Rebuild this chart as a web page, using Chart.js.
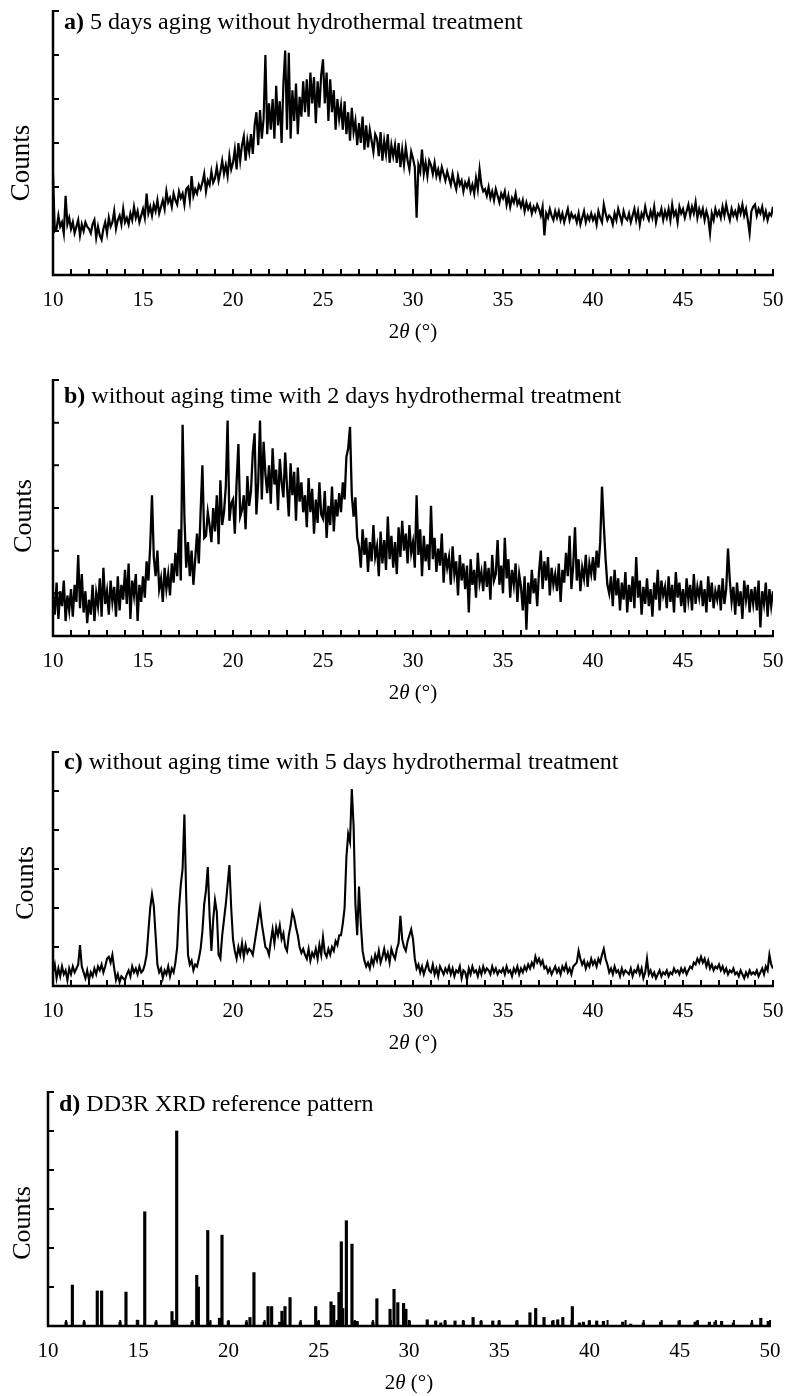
<!DOCTYPE html>
<html>
<head>
<meta charset="utf-8">
<script src="https://cdn.jsdelivr.net/npm/chart.js@4.4.1/dist/chart.umd.min.js"></script>
<style>
  html, body { margin: 0; padding: 0; background: #fff; }
  #page { position: relative; width: 785px; height: 1396px; overflow: hidden; }
  .panel { position: absolute; left: 0; width: 785px; }
  canvas { display: block; }
</style>
</head>
<body>
<div id="page">
  <div class="panel" style="top:0px"><canvas id="chartA" width="785" height="350"></canvas></div>
  <div class="panel" style="top:350px"><canvas id="chartB" width="785" height="362"></canvas></div>
  <div class="panel" style="top:712px"><canvas id="chartC" width="785" height="350"></canvas></div>
  <div class="panel" style="top:1062px"><canvas id="chartD" width="785" height="334"></canvas></div>
</div>
<script>
// 2-theta sampling of the measured patterns (degrees)
const thetaStart = 10;
const thetaStep = 0.1;
const xTickLabels = [10, 15, 20, 25, 30, 35, 40, 45, 50];
const yTickValues = [1, 2, 3, 4, 5, 6];

// a) 5 days aging without hydrothermal treatment (counts, in tick units)
const countsA = [
  2.30,1.00,1.05,1.35,1.10,1.20,0.95,1.80,1.15,1.30,
  1.05,1.20,0.95,1.10,1.25,0.90,1.15,1.00,1.20,1.10,
  1.05,0.95,1.15,1.25,0.85,1.10,0.90,0.80,1.05,1.20,
  0.95,1.30,1.10,1.20,1.45,1.05,1.25,1.35,1.15,1.50,
  1.20,1.30,1.15,1.40,1.25,1.55,1.30,1.45,1.20,1.35,
  1.50,1.30,1.85,1.40,1.55,1.35,1.60,1.45,1.70,1.40,
  1.55,1.70,1.50,1.90,1.65,1.75,1.55,1.85,1.70,1.60,
  1.90,1.75,1.85,1.60,1.95,2.00,1.70,2.25,1.80,1.95,
  1.85,2.05,1.95,2.10,2.30,1.90,2.15,2.05,2.35,2.10,
  2.20,2.45,2.15,2.35,2.60,2.30,2.50,2.25,2.70,2.40,
  2.55,2.85,2.40,3.00,2.60,2.95,3.15,2.60,3.05,2.80,
  3.20,2.75,3.40,3.70,2.95,3.75,3.10,3.55,5.00,3.20,
  3.90,3.30,4.00,3.10,4.30,3.40,3.95,3.00,4.35,5.10,
  3.30,5.05,3.10,4.20,3.50,4.35,3.20,4.05,3.60,4.40,
  3.70,4.45,3.60,4.60,3.90,4.50,3.45,4.40,3.80,4.55,
  4.90,3.90,4.60,3.50,4.45,3.70,4.20,3.30,4.00,3.55,
  3.85,3.30,3.95,3.20,3.70,3.05,3.80,3.25,3.50,2.95,
  3.45,3.00,3.60,2.85,3.40,2.90,3.30,3.05,2.80,3.20,
  3.10,2.70,3.25,2.60,3.05,2.75,3.20,2.55,2.95,2.70,
  2.95,2.55,3.00,2.45,2.85,2.50,2.90,2.60,2.40,2.80,
  2.65,2.45,1.30,2.50,2.35,2.85,2.30,2.55,2.25,2.60,
  2.50,2.30,2.55,2.25,2.40,2.20,2.45,2.30,2.15,2.35,
  2.20,2.05,2.30,2.10,1.95,2.25,2.05,2.15,1.90,2.10,
  2.00,2.15,1.90,2.05,1.85,2.20,1.95,2.40,2.05,1.90,
  1.95,1.80,2.00,1.75,1.90,1.70,1.95,1.80,1.65,1.85,
  1.75,1.90,1.60,1.80,1.55,1.75,1.65,1.85,1.60,1.70,
  1.55,1.70,1.45,1.65,1.50,1.60,1.40,1.55,1.45,1.60,
  1.50,1.35,1.55,0.90,1.40,1.30,1.50,1.35,1.25,1.45,
  1.30,1.45,1.25,1.40,1.20,1.35,1.50,1.25,1.40,1.30,
  1.35,1.20,1.40,1.15,1.30,1.45,1.20,1.35,1.25,1.40,
  1.25,1.35,1.15,1.45,1.30,1.20,1.60,1.40,1.25,1.35,
  1.30,1.15,1.40,1.25,1.50,1.35,1.20,1.45,1.30,1.25,
  1.40,1.20,1.35,1.50,1.25,1.45,1.15,1.40,1.30,1.55,
  1.35,1.25,1.45,1.30,1.55,1.20,1.40,1.35,1.50,1.25,
  1.45,1.30,1.50,1.25,1.60,1.35,1.45,1.20,1.55,1.40,
  1.50,1.30,1.45,1.60,1.35,1.55,1.40,1.65,1.30,1.50,
  1.35,1.50,1.25,1.45,1.30,0.95,1.40,1.25,1.50,1.35,
  1.45,1.30,1.55,1.35,1.60,1.40,1.25,1.50,1.35,1.45,
  1.30,1.55,1.40,1.60,1.35,1.50,1.25,0.95,1.45,1.55,
  1.60,1.35,1.50,1.40,1.55,1.30,1.45,1.25,1.40,1.35,
  1.55
];

// b) without aging time with 2 days hydrothermal treatment
const countsB = [
  1.00,0.50,1.25,0.40,1.05,0.70,1.30,0.35,0.95,0.60,
  1.10,0.45,1.20,0.80,1.90,0.65,1.45,0.55,1.05,0.30,
  0.85,0.50,1.20,0.35,1.00,0.70,1.35,0.45,1.60,0.75,
  1.05,0.50,1.30,0.80,1.15,0.45,1.40,0.60,1.20,0.85,
  1.55,0.75,1.70,0.40,1.30,0.95,1.45,0.35,1.20,0.80,
  1.40,0.90,1.75,1.30,2.10,3.30,1.85,1.40,2.00,1.10,
  1.35,0.80,1.60,1.10,1.45,0.95,1.70,1.25,1.95,1.40,
  2.50,1.30,4.95,2.80,1.60,2.20,1.40,2.00,1.20,1.80,
  2.40,1.70,2.90,4.00,2.30,2.35,2.90,2.60,2.20,3.00,
  2.45,3.30,2.15,3.65,2.60,2.90,3.50,5.05,2.70,3.10,
  3.20,2.40,3.60,4.50,2.80,2.95,3.30,2.50,3.75,3.05,
  3.40,4.30,4.75,2.85,3.60,5.05,3.20,4.55,3.80,3.35,
  4.00,3.10,4.40,3.55,3.90,2.95,4.15,3.60,3.25,4.30,
  3.50,2.80,4.05,3.30,3.85,2.70,3.95,3.15,3.60,2.90,
  3.30,2.55,3.70,2.90,3.45,2.40,3.20,2.65,3.60,2.85,
  2.75,3.40,2.30,3.05,2.60,3.50,2.45,3.20,2.80,3.35,
  2.90,3.60,3.20,4.20,4.40,4.90,3.30,2.80,3.25,2.30,
  2.10,1.60,2.50,1.90,2.30,1.50,2.20,1.75,2.60,1.85,
  2.10,1.40,2.45,1.70,2.25,1.55,2.80,1.80,2.35,1.60,
  2.20,1.45,2.55,1.85,2.70,2.00,2.40,1.70,2.60,1.95,
  2.20,1.60,3.30,1.90,2.50,1.40,2.35,1.75,2.15,1.55,
  3.05,1.80,2.30,1.50,2.05,1.65,2.40,1.25,1.95,1.60,
  1.85,1.20,2.10,1.45,1.75,0.95,1.90,1.30,1.70,1.10,
  1.65,0.55,1.80,1.20,1.55,0.90,1.95,1.25,1.50,1.05,
  1.75,1.15,1.60,0.85,1.90,1.30,1.45,2.25,1.20,1.65,
  1.00,2.30,1.35,1.80,0.90,1.55,1.20,1.70,0.80,1.45,
  1.15,0.60,1.40,0.15,1.25,0.75,1.55,1.00,1.35,0.70,
  1.50,2.00,1.10,1.75,1.30,1.85,0.95,1.60,1.20,1.45,
  1.05,1.70,0.80,1.55,1.25,1.95,1.40,2.35,1.10,1.65,
  2.55,1.30,1.80,1.05,1.60,1.35,1.90,1.15,1.70,1.45,
  1.85,1.30,2.00,1.60,2.20,3.50,2.60,1.80,1.20,1.00,
  1.40,0.70,1.55,0.95,1.35,0.60,1.25,0.85,1.50,0.55,
  1.20,0.80,1.40,0.65,1.85,0.90,1.30,0.50,1.15,0.75,
  1.35,0.70,1.10,0.45,1.25,0.85,1.55,0.60,1.30,0.95,
  1.15,0.65,1.40,0.80,1.20,0.55,1.50,0.90,1.25,0.70,
  1.10,0.55,1.35,0.85,1.20,0.60,1.45,0.75,1.15,0.90,
  1.30,0.70,1.10,0.55,1.40,0.80,1.25,0.65,1.05,0.85,
  1.20,0.60,1.35,0.75,1.10,2.05,1.30,0.80,1.15,0.50,
  1.25,0.70,1.05,0.40,1.30,0.85,1.20,0.55,1.10,0.75,
  1.15,0.60,1.30,0.20,1.05,0.75,1.25,0.45,1.10,0.70,
  1.05
];

// c) without aging time with 5 days hydrothermal treatment
const countsC = [
  0.35,0.55,0.20,0.45,0.25,0.50,0.30,0.40,0.15,0.45,
  0.30,0.50,0.35,0.45,0.55,1.05,0.50,0.35,0.20,0.40,
  0.15,0.35,0.25,0.45,0.30,0.50,0.40,0.55,0.35,0.50,
  0.70,0.75,0.60,0.80,0.45,0.15,0.30,0.10,0.25,0.20,
  0.15,0.30,0.40,0.25,0.50,0.35,0.45,0.30,0.50,0.35,
  0.40,0.55,0.80,1.40,2.00,2.35,2.05,1.30,0.55,0.35,
  0.45,0.20,0.40,0.30,0.50,0.25,0.45,0.35,0.60,1.00,
  2.00,2.60,3.00,4.40,2.30,0.80,0.55,0.65,0.40,0.55,
  0.50,0.70,0.95,1.40,2.10,2.45,3.05,1.80,0.90,1.70,
  2.20,1.90,0.80,0.70,1.30,1.70,2.10,2.60,3.10,2.00,
  1.20,0.90,0.70,1.00,0.80,1.10,0.75,1.05,0.85,0.95,
  0.90,0.80,1.10,1.40,1.70,2.00,1.60,1.30,1.00,0.95,
  0.80,1.15,1.45,1.10,1.50,1.30,1.55,1.20,1.35,1.00,
  0.90,1.30,1.55,1.90,1.75,1.50,1.30,1.00,0.85,0.95,
  0.80,0.70,0.95,0.65,0.85,0.75,0.95,0.70,1.05,0.80,
  1.25,0.85,0.75,0.95,0.80,1.00,0.90,1.15,1.05,1.30,
  1.30,1.60,2.00,3.30,3.90,3.70,5.05,4.10,2.10,1.30,
  2.55,1.60,0.90,0.65,0.50,0.60,0.45,0.70,0.55,0.80,
  0.65,0.90,0.60,0.75,0.95,0.70,0.85,0.60,0.95,0.80,
  0.70,0.95,1.10,1.80,1.20,1.00,0.90,1.15,1.30,1.45,
  1.20,0.70,0.45,0.55,0.35,0.50,0.30,0.45,0.60,0.40,
  0.35,0.55,0.30,0.45,0.25,0.50,0.40,0.30,0.45,0.35,
  0.50,0.30,0.45,0.25,0.40,0.35,0.50,0.20,0.40,0.35,
  0.15,0.45,0.30,0.50,0.35,0.40,0.25,0.45,0.30,0.50,
  0.35,0.45,0.40,0.30,0.50,0.35,0.45,0.30,0.40,0.35,
  0.45,0.30,0.50,0.35,0.40,0.25,0.45,0.35,0.50,0.30,
  0.45,0.35,0.50,0.40,0.55,0.45,0.60,0.50,0.75,0.60,
  0.70,0.55,0.65,0.45,0.50,0.35,0.45,0.30,0.40,0.50,
  0.35,0.45,0.30,0.50,0.40,0.55,0.35,0.45,0.30,0.50,
  0.55,0.60,0.90,0.70,0.55,0.65,0.45,0.60,0.50,0.70,
  0.55,0.65,0.50,0.70,0.60,0.80,0.95,0.70,0.55,0.35,
  0.45,0.30,0.50,0.35,0.40,0.25,0.45,0.30,0.40,0.35,
  0.30,0.45,0.25,0.40,0.35,0.50,0.30,0.45,0.20,0.35,
  0.70,0.30,0.40,0.25,0.35,0.20,0.30,0.40,0.25,0.35,
  0.30,0.40,0.25,0.35,0.30,0.45,0.35,0.40,0.30,0.45,
  0.35,0.45,0.30,0.40,0.50,0.45,0.60,0.55,0.70,0.60,
  0.75,0.60,0.70,0.50,0.65,0.45,0.55,0.40,0.50,0.45,
  0.55,0.40,0.50,0.35,0.45,0.30,0.40,0.35,0.45,0.30,
  0.35,0.25,0.40,0.30,0.20,0.35,0.25,0.40,0.30,0.35,
  0.30,0.40,0.25,0.35,0.45,0.30,0.50,0.40,0.80,0.55,
  0.45
];

// d) DD3R XRD reference pattern: peak positions (deg) and heights
const refPeakPositions = [
  11.00,11.35,12.00,12.73,12.97,13.99,14.32,14.95,15.36,15.98,
  16.87,16.96,17.13,17.98,18.24,18.33,18.85,18.96,19.50,19.64,
  19.99,20.99,21.19,21.41,21.98,22.19,22.39,22.84,22.96,23.13,
  23.41,23.98,24.83,24.98,25.68,25.83,26.01,26.12,26.25,26.33,
  26.53,26.84,27.00,27.13,28.00,28.22,28.95,29.17,29.38,29.70,
  29.83,30.02,31.01,31.48,31.76,32.00,32.55,33.01,33.55,33.99,
  34.64,34.99,35.97,36.70,37.02,37.48,37.96,38.24,38.52,39.05,
  39.44,39.66,39.99,40.40,40.77,41.84,42.28,42.98,43.94,44.96,
  45.85,45.97,46.64,46.95,47.32,47.97,48.99,49.49,49.90
];
const refPeakHeights = [
  0.10,1.05,0.10,0.90,0.90,0.10,0.87,0.15,2.93,0.10,
  0.37,0.10,5.00,0.10,1.30,1.00,2.45,0.10,0.20,2.33,
  0.12,0.10,0.22,1.37,0.10,0.50,0.50,0.10,0.38,0.50,
  0.73,0.10,0.50,0.12,0.62,0.53,0.10,0.86,2.16,0.45,
  2.70,2.10,0.12,0.12,0.10,0.70,0.43,0.94,0.60,0.58,
  0.43,0.13,0.16,0.13,0.08,0.13,0.13,0.13,0.22,0.12,
  0.13,0.13,0.13,0.34,0.45,0.22,0.13,0.16,0.22,0.50,
  0.08,0.10,0.13,0.13,0.12,0.10,0.05,0.08,0.10,0.13,
  0.10,0.13,0.10,0.10,0.12,0.08,0.08,0.20,0.12
];

const FONT = '"Liberation Serif", "Times New Roman", serif';

// page layout of the four panels (page pixel coordinates)
const panels = [
  { id: 'chartA', top: 0, height: 350, tag: 'a)', title: '5 days aging without hydrothermal treatment',
    area: { left: 53, right: 773, top: 11, bottom: 275 }, titleY: 23, countsX: 22, countsY: 163, countsSize: 27,
    kind: 'line', values: countsA, lw: 2.2 },
  { id: 'chartB', top: 350, height: 362, tag: 'b)', title: 'without aging time with 2 days hydrothermal treatment',
    area: { left: 53, right: 773, top: 380, bottom: 636 }, titleY: 397, countsX: 24, countsY: 516, countsSize: 26,
    kind: 'line', values: countsB, lw: 2.3 },
  { id: 'chartC', top: 712, height: 350, tag: 'c)', title: 'without aging time with 5 days hydrothermal treatment',
    area: { left: 53, right: 773, top: 752, bottom: 986 }, titleY: 763, countsX: 26, countsY: 883, countsSize: 26,
    kind: 'line', values: countsC, lw: 2.1 },
  { id: 'chartD', top: 1062, height: 334, tag: 'd)', title: 'DD3R XRD reference pattern',
    area: { left: 48, right: 770, top: 1092, bottom: 1326 }, titleY: 1105, countsX: 23, countsY: 1223, countsSize: 26,
    kind: 'bar' }
];

const X_AXIS_H = 40;

const framePlugin = {
  id: 'frame',
  afterDraw(chart, args, opts) {
    const p = opts.panel;
    const { ctx, chartArea: { left, bottom }, scales: { x, y } } = chart;
    ctx.save();
    ctx.strokeStyle = '#000';
    ctx.fillStyle = '#000';

    // axes
    ctx.lineWidth = 2.5;
    ctx.beginPath();
    ctx.moveTo(left, y.getPixelForValue(6) - 1);
    ctx.lineTo(left, bottom);
    ctx.lineTo(x.getPixelForValue(50) + 1, bottom);
    ctx.stroke();

    // inward ticks
    ctx.lineWidth = 2;
    ctx.beginPath();
    for (let v = 10; v <= 50; v += 1) {
      const px = x.getPixelForValue(v);
      ctx.moveTo(px, bottom);
      ctx.lineTo(px, bottom - 6);
    }
    yTickValues.forEach(v => {
      const py = y.getPixelForValue(v);
      ctx.moveTo(left, py);
      ctx.lineTo(left + 6, py);
    });
    ctx.stroke();

    // panel title
    const ty = p.titleY - p.top;
    ctx.textBaseline = 'middle';
    ctx.textAlign = 'left';
    ctx.font = 'bold 24px ' + FONT;
    const tx = left + 11;
    ctx.fillText(p.tag, tx, ty);
    const tagW = ctx.measureText(p.tag + ' ').width;
    ctx.font = '24px ' + FONT;
    ctx.fillText(p.title, tx + tagW, ty);

    // y title
    ctx.save();
    ctx.translate(p.countsX, p.countsY - p.top);
    ctx.rotate(-Math.PI / 2);
    ctx.textAlign = 'center';
    ctx.font = p.countsSize + 'px ' + FONT;
    ctx.fillText('Counts', 0, 0);
    ctx.restore();

    // x title: 2θ (°)
    const parts = [['2', '21px ' + FONT], ['\u03B8', 'italic 21px ' + FONT], [' (\u00B0)', '21px ' + FONT]];
    let total = 0;
    parts.forEach(([s, f]) => { ctx.font = f; total += ctx.measureText(s).width; });
    let cx = (x.getPixelForValue(10) + x.getPixelForValue(50)) / 2 - total / 2;
    const cy = bottom + 57;
    parts.forEach(([s, f]) => { ctx.font = f; ctx.fillText(s, cx, cy); cx += ctx.measureText(s).width; });
    ctx.restore();
  }
};

panels.forEach(p => {
  const areaTop = p.area.top - p.top;
  const areaBottom = p.area.bottom - p.top;
  let datasets;
  if (p.kind === 'line') {
    datasets = [{
      data: p.values.map((v, i) => ({ x: thetaStart + i * thetaStep, y: v })),
      borderColor: '#000',
      borderWidth: p.lw,
      pointRadius: 0,
      tension: 0,
      fill: false
    }];
  } else {
    datasets = [{
      data: refPeakPositions.map((pos, i) => ({ x: pos, y: refPeakHeights[i] })),
      backgroundColor: '#000',
      borderWidth: 0,
      barThickness: 2.5
    }];
  }

  new Chart(document.getElementById(p.id), {
    type: p.kind,
    data: { datasets },
    options: {
      responsive: false,
      animation: false,
      layout: {
        padding: {
          left: p.area.left,
          right: 785 - p.area.right,
          top: areaTop,
          bottom: p.height - areaBottom - X_AXIS_H
        }
      },
      plugins: {
        legend: { display: false },
        tooltip: { enabled: false },
        frame: { panel: p }
      },
      scales: {
        x: {
          type: 'linear',
          min: 10,
          max: 50,
          offset: false,
          afterBuildTicks: s => { s.ticks = xTickLabels.map(v => ({ value: v })); },
          afterFit: s => { s.height = X_AXIS_H; s.paddingLeft = 0; s.paddingRight = 0; },
          ticks: {
            font: { family: FONT, size: 21 },
            color: '#000',
            padding: 13,
            maxRotation: 0,
            autoSkip: false
          },
          grid: { display: false, drawTicks: false, offset: false },
          border: { display: false }
        },
        y: {
          display: false,
          min: 0,
          max: 6
        }
      }
    },
    plugins: [framePlugin]
  });
});
</script>
</body>
</html>
